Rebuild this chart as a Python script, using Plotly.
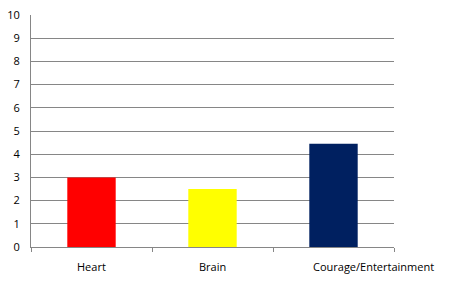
import plotly.graph_objects as go

categories = ["Heart", "Brain", "Courage/Entertainment"]
values = [3.0, 2.5, 4.45]
colors = ["#FF0000", "#FFFF00", "#002060"]
label_shift = [0, 0, 40]

fig = go.Figure(go.Bar(x=categories, y=values, marker=dict(color=colors, line=dict(width=0)), width=0.4))

fig.update_layout(
    width=459, height=291,
    margin=dict(l=31, r=65, t=15, b=44),
    paper_bgcolor="white", plot_bgcolor="white",
    showlegend=False,
    font=dict(family="Open Sans, Liberation Sans, sans-serif", size=11, color="black"),
    bargap=0.6,
)
for cat, sh in zip(categories, label_shift):
    fig.add_annotation(x=cat, y=0, xref="x", yref="paper", text=cat, showarrow=False,
                       xanchor="center", yanchor="top", xshift=sh, yshift=-10,
                       font=dict(size=11, color="black"))
fig.update_xaxes(
    range=[-0.5, len(categories) - 0.5], autorange=False,
    showline=True, linecolor="#868686", linewidth=1,
    ticks="outside", tickson="boundaries", ticklen=4, tickcolor="#868686",
    showgrid=False, showticklabels=False, automargin=False,
)
fig.update_yaxes(
    range=[0, 10], dtick=1, showgrid=True, gridcolor="#868686", gridwidth=1,
    showline=True, linecolor="#868686", linewidth=1, zeroline=False,
    ticks="", ticklabelstandoff=8, automargin=False,
)
fig.write_html("out.html")
